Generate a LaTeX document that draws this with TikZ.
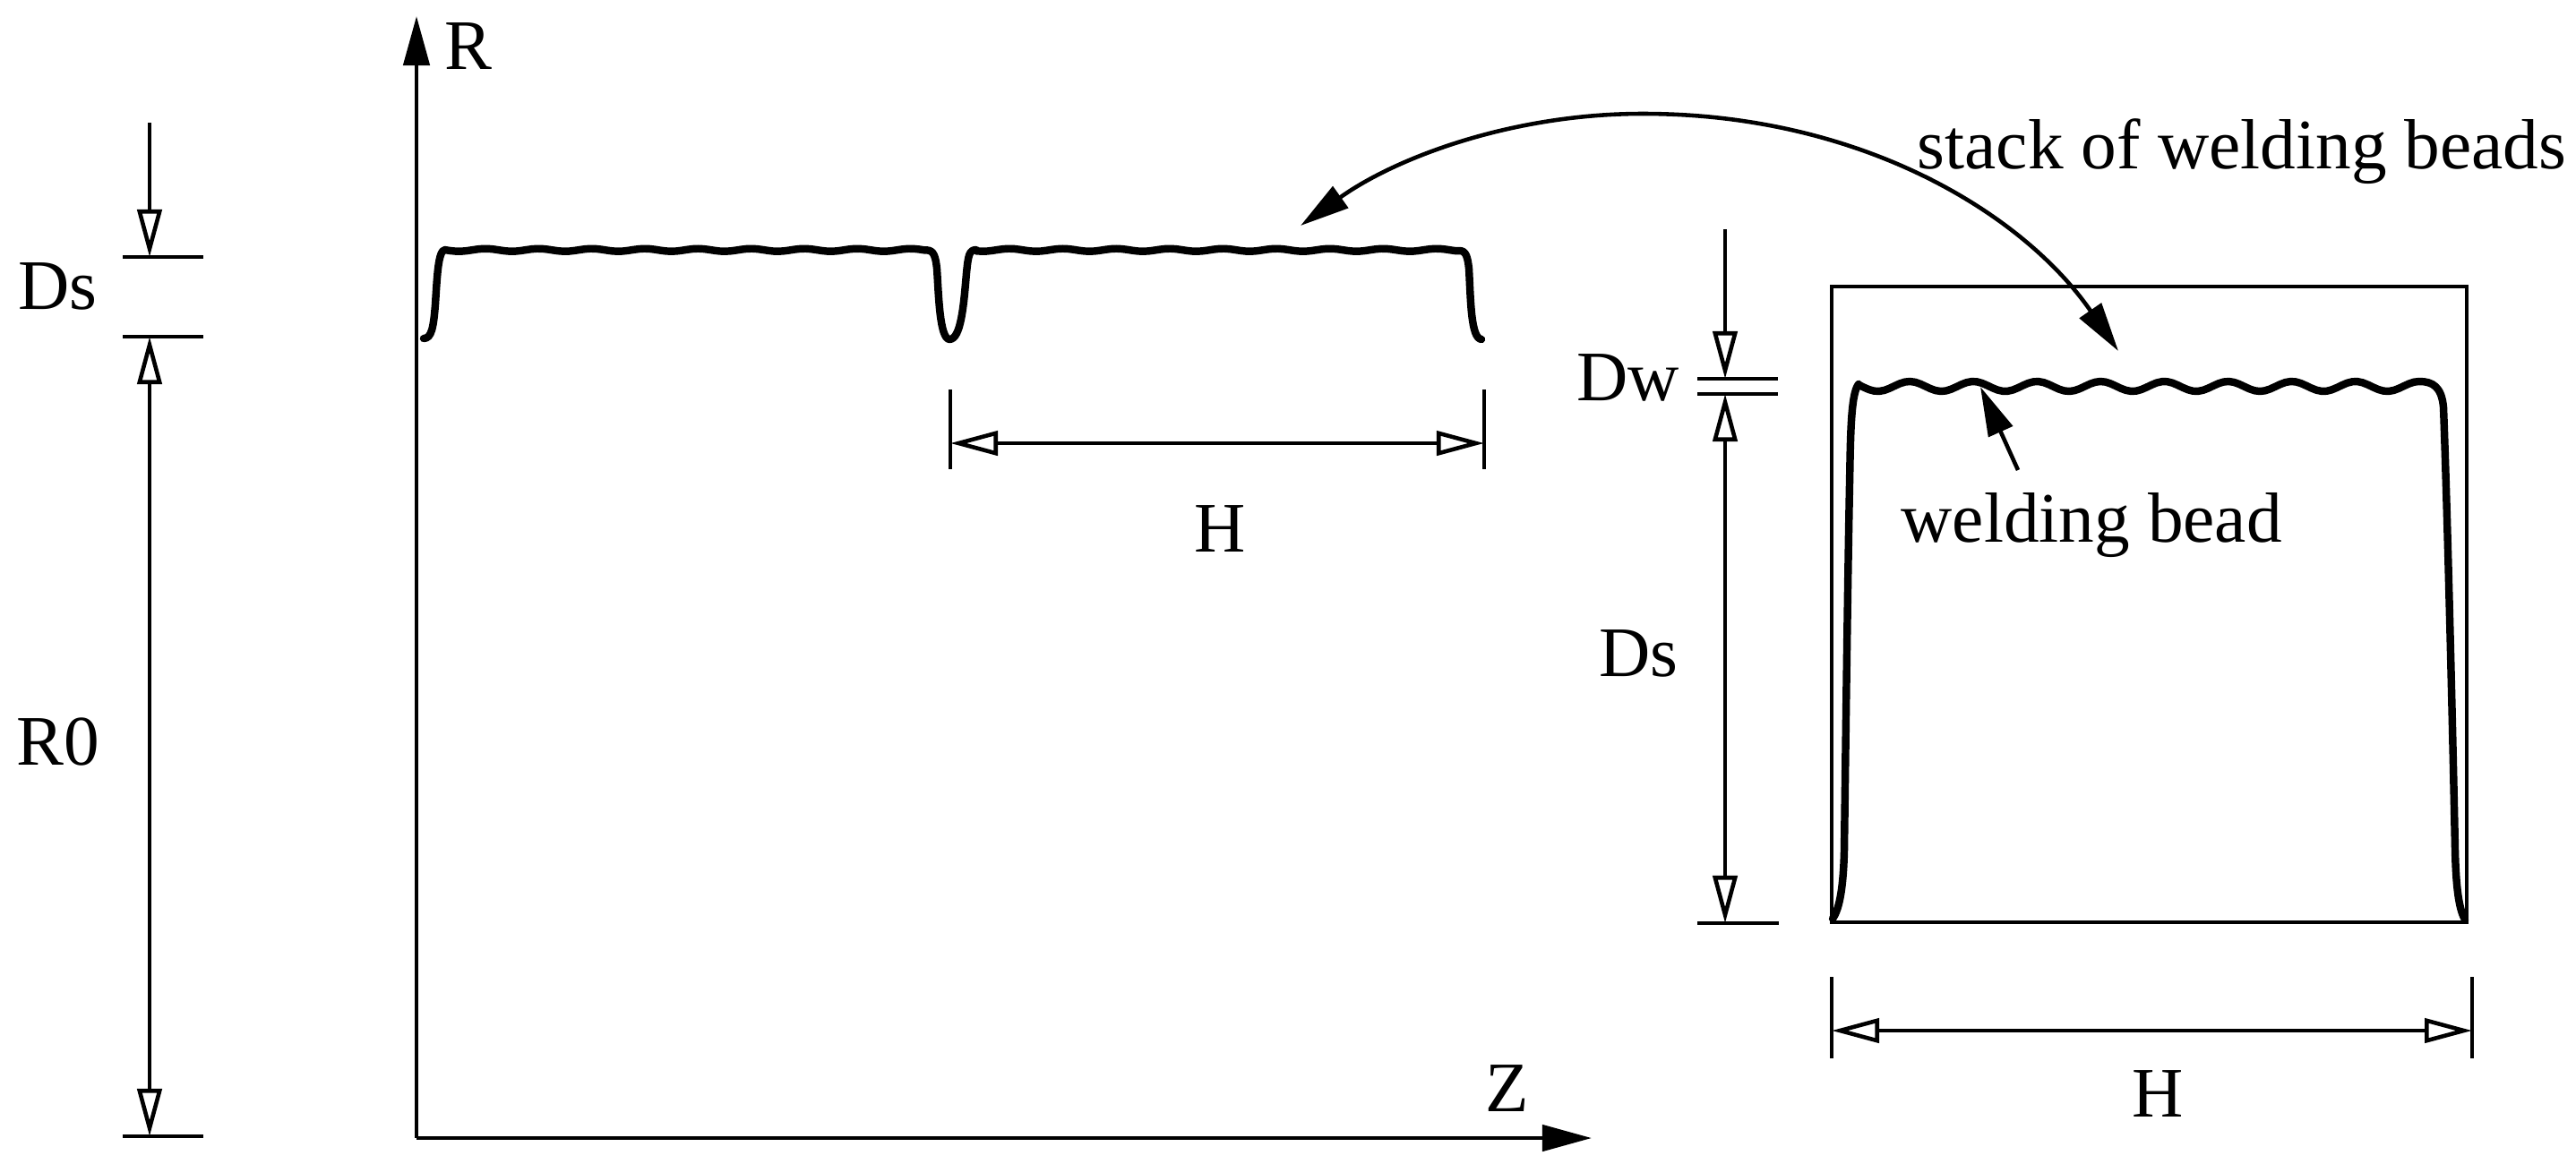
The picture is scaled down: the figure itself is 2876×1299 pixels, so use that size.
\documentclass[tikz,border=0pt]{standalone}
\usepackage{fontspec}
\setmainfont{Liberation Serif}
\usetikzlibrary{arrows.meta}

\begin{document}
\begin{tikzpicture}[
    x=0.01cm, y=-0.01cm,
    every node/.style={inner sep=0pt, anchor=base west, font=\fontsize{22.55}{26}\selectfont},
    thinline/.style={line width=1.3pt},
    dimone/.style={thinline, -{Triangle[open, length=5.3mm, width=2.7mm]}},
    dimtwo/.style={thinline, {Triangle[open, length=5.3mm, width=2.7mm]}-{Triangle[open, length=5.3mm, width=2.7mm]}},
    pointer/.style={thinline, -{Triangle[length=5.5mm, width=2.9mm]}},
    beadline/.style={line width=2.4pt, line join=round, line cap=round}
]
    \useasboundingbox (0,0) rectangle (2876,1299);

    \foreach \name/\px/\py in {origin/465/1271, axisR/465/18, axisZ/1777/1271,
        dsFree/167/137, dsUp/167/287, dsLow/167/376, rzero/167/1269,
        dsLa/137/287, dsLb/227/287, dsLc/137/376, dsLd/227/376, rzeroA/137/1269, rzeroB/227/1269,
        dwFree/1926/256, dwUp/1926/423, dwLow/1926/440, dsEnd/1926/1031,
        dwLa/1895/423, dwLb/1985/423, dwLc/1895/440, dwLd/1985/440, dsEndA/1895/1031, dsEndB/1986/1031,
        hleftA/1061/435, hleftB/1061/524, hrightA/1657/435, hrightB/1657/524, hdimA/1061/495, hdimB/1657/495,
        hboxA/2045/1091, hboxB/2045/1182, hboxC/2760/1091, hboxD/2760/1182, hdimC/2045/1151, hdimD/2760/1151,
        beadFree/2253/525, beadTip/2211/432, arcLeft/1452/252, arcTop/1834/127, arcRight/2365/392,
        boxA/2045/320, boxB/2754/1030}
        \coordinate (\name) at (\px,\py);

    \draw[pointer] (origin) -- (axisR);
    \draw[pointer] (origin) -- (axisZ);

    \foreach \a/\b in {dsLa/dsLb, dsLc/dsLd, rzeroA/rzeroB, dwLa/dwLb, dwLc/dwLd, dsEndA/dsEndB,
        hleftA/hleftB, hrightA/hrightB, hboxA/hboxB, hboxC/hboxD}
        \draw[thinline] (\a) -- (\b);

    \foreach \a/\b in {dsFree/dsUp, dwFree/dwUp}
        \draw[dimone] (\a) -- (\b);
    \foreach \a/\b in {dsLow/rzero, dwLow/dsEnd, hdimA/hdimB, hdimC/hdimD}
        \draw[dimtwo] (\a) -- (\b);

    \draw[thinline] (boxA) rectangle (boxB);

    \draw[beadline] (473,378) .. controls (482,378) and (484,365) .. (486,340) .. controls (488,310) and (489,279) .. (497,279)
        -- plot[domain=497:1032, samples=90] (\x, {279.2-1.5*cos(6.07*(\x-542))})
        .. controls (1041,279) and (1044,282) .. (1046,300) .. controls (1048,330) and (1049,378) .. (1060,379)
        .. controls (1073,379) and (1076,340) .. (1079,305) .. controls (1081,285) and (1082,279) .. (1090,279)
        -- plot[domain=1090:1626, samples=90] (\x, {279.2-1.5*cos(6.04*(\x-1127))})
        .. controls (1635,279) and (1638,282) .. (1640,300) .. controls (1642,335) and (1642,378) .. (1654,379);

    \draw[beadline] (2046,1026) .. controls (2054,1015) and (2058,990) .. (2059,950)
        .. controls (2061,800) and (2063,640) .. (2065,540) .. controls (2066,490) and (2066,440) .. (2075,429)
        -- plot[domain=2075:2701, samples=110] (\x, {431.5-5.5*cos(5.063*(\x-2132))})
        .. controls (2716,426) and (2726,432) .. (2728,455) .. controls (2732,560) and (2738,800) .. (2741,950)
        .. controls (2742,990) and (2745,1015) .. (2752,1027);

    \draw[pointer] (beadFree) -- (beadTip);
    \draw[pointer] (arcTop) .. controls (1690,127) and (1560,175) .. (arcLeft);
    \draw[pointer] (arcTop) .. controls (2080,127) and (2260,240) .. (arcRight);

    \node (labelR) at (496,77) {R};
    \node (labelZ) at (1658,1241) {Z};
    \node (labelDsA) at (20,345) {Ds};
    \node (labelRzero) at (18,854) {R0};
    \node (labelHa) at (1333,616) {H};
    \node (labelDw) at (1760,447) {Dw};
    \node (labelDsB) at (1785,755) {Ds};
    \node (labelHb) at (2380,1247) {H};
    \node (labelBead) at (2122,605) {welding bead};
    \node (labelStack) at (2140,188) {stack of welding beads};
\end{tikzpicture}
\end{document}
